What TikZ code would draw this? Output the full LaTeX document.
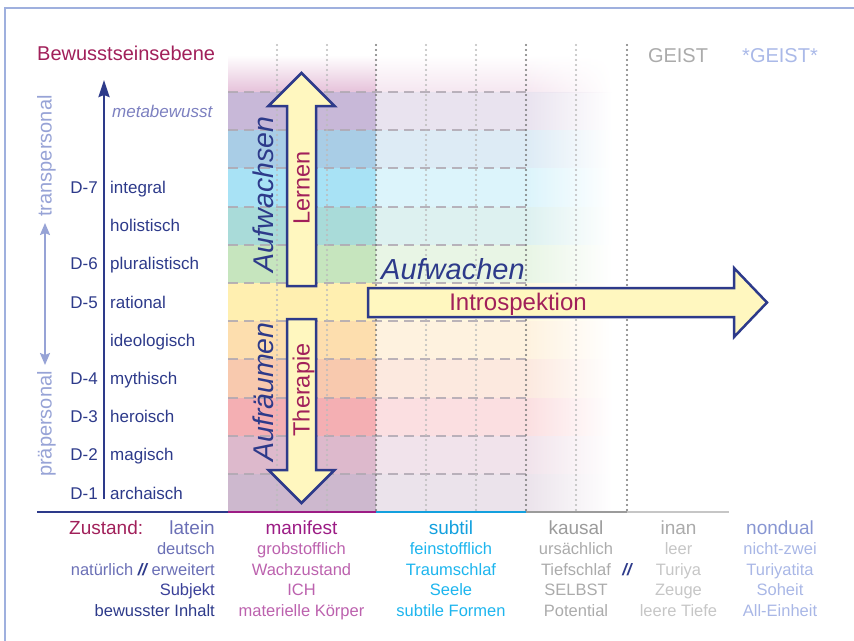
\documentclass[tikz,border=0pt]{standalone}
\usepackage{fontspec}
\setmainfont{Liberation Sans}
\usetikzlibrary{arrows.meta,fadings}
\newcommand\myfs[1]{\fontsize{#1}{#1}\selectfont}
\tikzfading[name=fadeR,left color=transparent!0,right color=transparent!100]
\definecolor{navy}{HTML}{2D3A8A}
\definecolor{crim}{HTML}{A1205A}
\definecolor{frameblue}{HTML}{9FB0DE}
\definecolor{meta}{HTML}{7C80C0}
\definecolor{persc}{HTML}{97A3D6}
\definecolor{latc}{HTML}{6B70B6}
\definecolor{subjc}{HTML}{3B4199}
\definecolor{manc}{HTML}{9C1C85}
\definecolor{manl}{HTML}{BC62AE}
\definecolor{subc}{HTML}{13A0DE}
\definecolor{subl}{HTML}{1DB5EE}
\definecolor{kauc}{HTML}{9B9B9B}
\definecolor{kaul}{HTML}{ABABAB}
\definecolor{inac}{HTML}{ABABAB}
\definecolor{inal}{HTML}{C6C6C6}
\definecolor{nonc}{HTML}{8896D2}
\definecolor{nonl}{HTML}{A9B7E6}
\definecolor{geistb}{HTML}{AAB9E8}
\definecolor{arrfill}{HTML}{FFF7BF}
\definecolor{dashc}{HTML}{B0A8B2}
\definecolor{dotl}{HTML}{BBBBBB}
\definecolor{dotd}{HTML}{777777}
\definecolor{topP}{HTML}{E6C2DA}
\definecolor{bA}{HTML}{C8B8D8}
\definecolor{bB}{HTML}{A9CDE6}
\definecolor{bC}{HTML}{A8E2F5}
\definecolor{bD}{HTML}{A9DBD9}
\definecolor{bE}{HTML}{C6E5BE}
\definecolor{bF}{HTML}{FFEFB0}
\definecolor{bG}{HTML}{FDDEAE}
\definecolor{bH}{HTML}{F8C9AE}
\definecolor{bI}{HTML}{F4AFB3}
\definecolor{bJ}{HTML}{DDB9CC}
\definecolor{bK}{HTML}{CDB8CE}
\begin{document}
\begin{tikzpicture}[x=1pt,y=-1pt,
  every node/.style={inner sep=0pt},
  dlab/.style={text=navy,font=\myfs{17},anchor=base east},
  nlab/.style={text=navy,font=\myfs{17},anchor=base west},
  pers/.style={text=persc,font=\myfs{20},rotate=90,anchor=base},
  big/.style={draw=navy,fill=arrfill,line width=2.5pt,line join=miter},
  bigtxt/.style={text=navy,font=\myfs{28.5}\itshape,rotate=90,anchor=base},
  intxt/.style={text=crim,font=\myfs{23.5},rotate=90,anchor=base},
  dashline/.style={draw=dashc,line width=2pt,dash pattern=on 10pt off 6pt,opacity=0.85},
  dotlight/.style={draw=dotl,line width=2.2pt,line cap=round,dash pattern=on 0pt off 5pt},
  dotdark/.style={draw=dotd,line width=2.4pt,line cap=round,dash pattern=on 0pt off 5pt},
  head/.style={font=\myfs{19},anchor=base},
  sub/.style={font=\myfs{16.5},anchor=base},
  subr/.style={font=\myfs{16.5},anchor=base east}]
\useasboundingbox (0,0) rectangle (854,640);
% frame
\draw[frameblue,line width=2pt] (5,645) -- (5,8) -- (860,8);
% top gradient
\shade[top color=white,bottom color=topP] (228,55) rectangle (376,92);
\shade[top color=white,bottom color=topP!40] (376,55) rectangle (527,92);
\shade[top color=white,bottom color=topP!40,path fading=fadeR] (527,55) rectangle (612,92);
% bands
\foreach \c [count=\k from 0] in {bA,bB,bC,bD,bE,bF,bG,bH,bI,bJ,bK}{
  \pgfmathsetmacro\ya{92+38.2*\k}
  \pgfmathsetmacro\yb{\ya+38.2}
  \fill[\c] (228,\ya) rectangle (376,\yb);
  \fill[\c!40] (376,\ya) rectangle (527,\yb);
  \fill[\c!40,path fading=fadeR] (527,\ya) rectangle (612,\yb);
}
% dashed level lines
\foreach \k in {0,...,10}{
  \draw[dashline] (228,92+38.2*\k) -- (527,92+38.2*\k);
}
% dotted verticals
\foreach \x in {277,327,426,476,576} \draw[dotlight] (\x,45) -- (\x,511);
\foreach \x in {376,526,627} \draw[dotdark] (\x,45) -- (\x,511);
% bottom axis
\coordinate (b0) at (37,512);
\coordinate (b1) at (228,512);
\coordinate (b2) at (376,512);
\coordinate (b3) at (526,512);
\coordinate (b4) at (627,512);
\coordinate (b5) at (729,512);
\draw[navy,line width=2.5pt] (b0) -- (b1);
\draw[manc,line width=2.5pt] (b1) -- (b2);
\draw[subc,line width=2.5pt] (b2) -- (b3);
\draw[kauc,line width=2.5pt] (b3) -- (b4);
\draw[inal,line width=2.5pt] (b4) -- (b5);
% left axis arrow
\coordinate (ax0) at (104,499);
\coordinate (ax1) at (104,80);
\draw[navy,line width=2.6pt,-{Stealth[length=17pt,width=11pt,inset=2pt]}] (ax0) -- (ax1);
% trans/prae double arrow
\coordinate (pa0) at (45,365);
\coordinate (pa1) at (45,223);
\draw[persc,line width=2pt,{Stealth[length=12pt,width=10pt,inset=2pt]}-{Stealth[length=12pt,width=10pt,inset=2pt]}] (pa0) -- (pa1);
\node[pers] (trans) at (51.5,156) {transpersonal};
\node[pers] (prae) at (51.5,424) {präpersonal};
% title
\node[text=crim,font=\myfs{20},anchor=base west] (bew) at (37,60.5) {Bewusstseinsebene};
\node[text=inac,font=\myfs{20},anchor=base] (geist) at (678,62) {GEIST};
\node[text=geistb,font=\myfs{20},anchor=base] (geist2) at (780,62) {*GEIST*};
% levels
\node[text=meta,font=\myfs{17}\itshape,anchor=base west] (meta) at (112,117) {metabewusst};
\node[dlab] (d7) at (98,193.5) {D-7};
\node[nlab] (l7) at (110,193.5) {integral};
\node[nlab] (lh) at (110,231.7) {holistisch};
\node[dlab] (d6) at (98,269.9) {D-6};
\node[nlab] (l6) at (110,269.9) {pluralistisch};
\node[dlab] (d5) at (98,308.1) {D-5};
\node[nlab] (l5) at (110,308.1) {rational};
\node[nlab] (li) at (110,346.3) {ideologisch};
\node[dlab] (d4) at (98,384.5) {D-4};
\node[nlab] (l4) at (110,384.5) {mythisch};
\node[dlab] (d3) at (98,422.7) {D-3};
\node[nlab] (l3) at (110,422.7) {heroisch};
\node[dlab] (d2) at (98,460.9) {D-2};
\node[nlab] (l2) at (110,460.9) {magisch};
\node[dlab] (d1) at (98,499.1) {D-1};
\node[nlab] (l1) at (110,499.1) {archaisch};
% big arrows
\draw[big] (287,286) -- (287,106) -- (268.5,106) -- (301.5,73) -- (334.5,106) -- (316,106) -- (316,286) -- cycle;
\draw[big] (287,319) -- (316,319) -- (316,470) -- (334.5,470) -- (301.5,503) -- (268.5,470) -- (287,470) -- cycle;
\draw[big] (368,288) -- (734,288) -- (734,268) -- (767,302.5) -- (734,337) -- (734,317) -- (368,317) -- cycle;
\node[bigtxt] (aufw) at (273,194.5) {Aufwachsen};
\node[bigtxt] (aufr) at (273,392) {Aufräumen};
\node[intxt] (lern) at (309.5,188) {Lernen};
\node[intxt] (ther) at (309.5,390) {Therapie};
\node[text=navy,font=\myfs{29}\itshape,anchor=base west] (aufwa) at (381,279) {Aufwachen};
\node[text=crim,font=\myfs{24},anchor=base] (intro) at (518,310) {Introspektion};
% bottom table
\node[head,text=crim,anchor=base west] (zu) at (69,534.5) {Zustand:};
\node[head,text=latc,anchor=base east] (lat) at (215,534.5) {latein};
\node[subr,text=latc] (deu) at (215,554.5) {deutsch};
\node[subr,text=latc] (nat) at (215,575) {natürlich {\color{navy}\bfseries\itshape//} erweitert};
\node[subr,text=subjc] (subj) at (215,595.5) {Subjekt};
\node[subr,text=navy] (inh) at (215,616) {bewusster Inhalt};
\node[head,text=manc] (man) at (301.5,534.5) {manifest};
\node[sub,text=manl] (man1) at (301.5,554.5) {grobstofflich};
\node[sub,text=manl] (man2) at (301.5,575) {Wachzustand};
\node[sub,text=manl] (man3) at (301.5,595.5) {ICH};
\node[sub,text=manl] (man4) at (301.5,616) {materielle Körper};
\node[head,text=subc] (sb) at (451,534.5) {subtil};
\node[sub,text=subl] (sb1) at (451,554.5) {feinstofflich};
\node[sub,text=subl] (sb2) at (451,575) {Traumschlaf};
\node[sub,text=subl] (sb3) at (451,595.5) {Seele};
\node[sub,text=subl] (sb4) at (451,616) {subtile Formen};
\node[head,text=kauc] (ka) at (576,534.5) {kausal};
\node[sub,text=kaul] (ka1) at (576,554.5) {ursächlich};
\node[sub,text=kaul] (ka2) at (576,575) {Tiefschlaf};
\node[sub,text=kaul] (ka3) at (576,595.5) {SELBST};
\node[sub,text=kaul] (ka4) at (576,616) {Potential};
\node[sub,text=navy,font=\myfs{16.5}\bfseries\itshape] (sl) at (627,575) {//};
\node[head,text=inac] (in) at (678.5,534.5) {inan};
\node[sub,text=inal] (in1) at (678.5,554.5) {leer};
\node[sub,text=inal] (in2) at (678.5,575) {Turiya};
\node[sub,text=inal] (in3) at (678.5,595.5) {Zeuge};
\node[sub,text=inal] (in4) at (678.5,616) {leere Tiefe};
\node[head,text=nonc] (nd) at (780,534.5) {nondual};
\node[sub,text=nonl] (nd1) at (780,554.5) {nicht-zwei};
\node[sub,text=nonl] (nd2) at (780,575) {Turiyatita};
\node[sub,text=nonl] (nd3) at (780,595.5) {Soheit};
\node[sub,text=nonl] (nd4) at (780,616) {All-Einheit};
\end{tikzpicture}
\end{document}
